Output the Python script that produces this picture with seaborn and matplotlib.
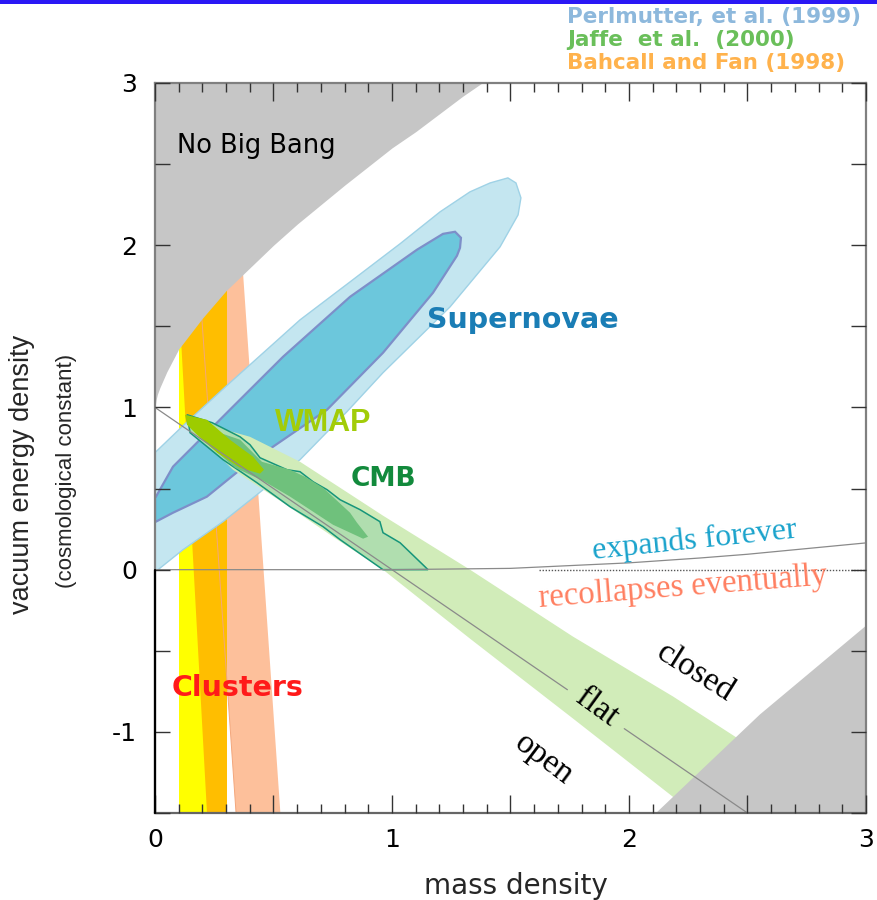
import numpy as np
import pandas as pd
import matplotlib
matplotlib.use("Agg")
import matplotlib.pyplot as plt
from matplotlib import font_manager
from matplotlib.patches import Rectangle
from matplotlib.ticker import MultipleLocator, FuncFormatter
import seaborn as sns

# ---------------- data: (mass density, vacuum energy density) ----------------
no_big_bang_m = [0.0, 0.005, 0.01, 0.02, 0.05, 0.1, 0.2, 0.3, 0.4, 0.5, 0.6, 0.8, 1.0, 1.1, 1.2, 1.3, 1.38]
no_big_bang_l = [1.0, 1.05, 1.08, 1.12, 1.22, 1.36, 1.55, 1.72, 1.86, 2.0, 2.13, 2.37, 2.60, 2.70, 2.81, 2.92, 3.0]

lower_gray_m = [2.11, 2.55, 3.0]
lower_gray_l = [-1.5, -0.89, -0.34]

expand_m = [0.0, 1.0, 1.5, 2.0, 2.3, 2.5, 3.0]
expand_l = [0.0, 0.0, 0.008, 0.042, 0.072, 0.095, 0.165]

dotted_m = [1.62, 3.0]
dotted_l = [0.0, 0.0]

flat_a_m = [0.0, 1.74]
flat_a_l = [1.0, -0.74]
flat_b_m = [1.98, 2.5]
flat_b_l = [-0.98, -1.5]

# galaxy clusters
yellow_m = [0.10, 0.30, 0.30, 0.10]
yellow_l = [3.0, 3.0, -1.5, -1.5]
orange_m = [0.05, 0.305, 0.305, 0.219]
orange_l = [3.0, 3.0, -1.5, -1.5]
salmon_m = [0.129, 0.316, 0.529, 0.342]
salmon_l = [3.0, 3.0, -1.5, -1.5]

# supernovae confidence regions
sn_outer_m = [0.0, 0.004, 0.118, 0.316, 0.612, 0.823, 1.034, 1.203, 1.329, 1.414, 1.489,
              1.523, 1.544, 1.532, 1.456, 1.245, 0.962, 0.810, 0.612, 0.430, 0.287,
              0.118, 0.013, 0.0]
sn_outer_l = [0.727, 0.727, 0.887, 1.152, 1.540, 1.774, 2.009, 2.206, 2.329, 2.384, 2.415,
              2.384, 2.292, 2.187, 1.990, 1.620, 1.214, 0.974, 0.678, 0.462, 0.296,
              0.123, 0.0, 0.0]
sn_inner_m = [0.0, 0.004, 0.076, 0.219, 0.316, 0.540, 0.823, 1.105, 1.215, 1.266, 1.291,
              1.287, 1.274, 1.173, 0.962, 0.726, 0.498, 0.359, 0.219, 0.076, 0.004, 0.0]
sn_inner_l = [0.450, 0.450, 0.635, 0.844, 0.986, 1.312, 1.682, 1.972, 2.070, 2.083, 2.046,
              1.984, 1.935, 1.707, 1.337, 0.986, 0.758, 0.616, 0.450, 0.351, 0.296, 0.296]

# CMB band and contours
band_m = [0.148, 0.401, 0.612, 0.781, 0.962, 1.329, 1.764, 2.186, 2.637, 3.0,
          2.468, 2.173, 1.764, 1.329, 0.962, 0.751, 0.540, 0.329, 0.148]
band_l = [0.924, 0.819, 0.665, 0.505, 0.333, 0.0, -0.413, -0.782, -1.208, -1.553,
          -1.725, -1.386, -0.918, -0.425, 0.0, 0.203, 0.413, 0.616, 0.875]
cmb_outer_m = [0.135, 0.241, 0.359, 0.401, 0.443, 0.557, 0.612, 0.667, 0.726, 0.781, 0.865,
               0.949, 0.962, 1.034, 1.152, 0.962, 0.781, 0.709, 0.570, 0.430, 0.287, 0.148]
cmb_outer_l = [0.955, 0.906, 0.819, 0.770, 0.690, 0.616, 0.604, 0.542, 0.493, 0.431, 0.370,
               0.296, 0.228, 0.166, 0.0, 0.0, 0.185, 0.265, 0.388, 0.536, 0.678, 0.844]
cmb_inner_m = [0.211, 0.359, 0.451, 0.570, 0.641, 0.709, 0.823, 0.852, 0.899,
               0.878, 0.751, 0.654, 0.570, 0.456, 0.338, 0.211]
cmb_inner_l = [0.875, 0.801, 0.665, 0.616, 0.567, 0.505, 0.351, 0.290, 0.203,
               0.191, 0.277, 0.370, 0.450, 0.548, 0.628, 0.789]
wmap_m = [0.127, 0.219, 0.316, 0.414, 0.460, 0.443, 0.359, 0.262, 0.177, 0.135]
wmap_l = [0.955, 0.924, 0.801, 0.696, 0.616, 0.592, 0.628, 0.721, 0.832, 0.893]

refs = ["Perlmutter, et al. (1999)", "Jaffe  et al.  (2000)", "Bahcall and Fan (1998)"]
ref_colors = ["#8db8dc", "#6abf5a", "#ffb24c"]

x_ticks_major = 0.5
x_ticks_minor = 0.1
y_ticks_major = 0.5

# ---------------- style ----------------
sns.set_theme(style="white")
plt.rcParams["font.family"] = ["DejaVu Sans"]
plt.rcParams["axes.unicode_minus"] = False

names = {f.name for f in font_manager.fontManager.ttflist}
if "Liberation Sans Narrow" in names:
    narrow_family, narrow_size = ["Liberation Sans Narrow", "DejaVu Sans"], 19.5
else:
    narrow_family, narrow_size = ["Liberation Sans", "DejaVu Sans"], 16.0
serif = ["Liberation Serif", "DejaVu Serif"]

fig = plt.figure(figsize=(8.78, 9.0), dpi=100)
fig.patch.set_facecolor("white")
ax = fig.add_axes([155 / 878, 87 / 900, 711 / 878, 730 / 900])
ax.set_facecolor("white")

# header bar
fig.patches.append(Rectangle((0, 1 - 4 / 900), 1, 4 / 900, transform=fig.transFigure,
                             facecolor="#2a18f5", edgecolor="none"))

# clusters
ax.fill(salmon_m, salmon_l, color="#fdc09b", lw=0, zorder=1.0)
ax.fill(yellow_m, yellow_l, color="#ffff00", lw=0, zorder=1.1)
ax.fill(orange_m, orange_l, color="#ffbe00", lw=0, zorder=1.2)
ax.plot([salmon_m[0], salmon_m[3]], [salmon_l[0], salmon_l[3]], color="#f3a77c",
        lw=0.7, zorder=1.3)

# forbidden regions
ax.fill_between(no_big_bang_m, no_big_bang_l, 3.0, color="#c6c6c6", lw=0, zorder=2)

# supernovae
ax.fill(sn_outer_m, sn_outer_l, facecolor="#c4e6f0", edgecolor="#9fd2e6", lw=1.0, zorder=3)
ax.fill(sn_inner_m, sn_inner_l, facecolor="#6cc7dc", edgecolor="#7d8fc9", lw=1.6, zorder=3.1)

# CMB
ax.fill(band_m, band_l, color="#d1ecb9", lw=0, zorder=4)
ax.fill(cmb_outer_m, cmb_outer_l, facecolor="#b0deaf", edgecolor="#16957a", lw=1.1, zorder=4.1)
ax.fill(cmb_inner_m, cmb_inner_l, color="#6fc17c", lw=0, zorder=4.2)
ax.fill(wmap_m, wmap_l, color="#9dcc00", lw=0, zorder=4.3)

ax.fill_between(lower_gray_m, lower_gray_l, -1.5, color="#c6c6c6", lw=0, zorder=4.5)

# reference lines
line_kw = dict(color="#8a8a8a", linewidth=0.9, sort=False, estimator=None, ax=ax, zorder=5)
sns.lineplot(x=flat_a_m, y=flat_a_l, **line_kw)
sns.lineplot(x=flat_b_m, y=flat_b_l, **line_kw)
sns.lineplot(x=expand_m, y=expand_l, **line_kw)
ax.plot(dotted_m, dotted_l, color="#555555", lw=1.0, ls=(0, (1, 1.2)), zorder=5)

ax.set_xlim(0, 3)
ax.set_ylim(-1.5, 3)

# labels inside the plot
ax.text(0.426, 2.612, "No Big Bang", fontsize=18.5, color="black", ha="center", va="center", zorder=6)
ax.text(1.553, 1.540, "Supernovae", fontsize=20.5, fontweight="bold", color="#1a7db5",
        ha="center", va="center", zorder=6)
ax.text(0.709, 0.906, "WMAP", fontsize=22, fontweight="bold", color="#a2cc08",
        family=["Liberation Sans", "DejaVu Sans"], ha="center", va="center", zorder=6)
ax.text(0.962, 0.561, "CMB", fontsize=19, fontweight="bold", color="#128a3c",
        ha="center", va="center", zorder=6)
ax.text(0.350, -0.727, "Clusters", fontsize=20.5, fontweight="bold", color="#ff1a1a",
        ha="center", va="center", zorder=6)
ax.text(2.278, 0.179, "expands forever", fontsize=23, family=serif, color="#1aa3cc",
        rotation=6, rotation_mode="anchor", ha="center", va="center", zorder=6)
ax.text(2.228, -0.111, "recollapses eventually", fontsize=23.5, family=serif, color="#ff7f60",
        rotation=4.5, rotation_mode="anchor", ha="center", va="center", zorder=6)
ax.text(2.278, -0.635, "closed", fontsize=24, family=serif, color="black",
        rotation=-32, rotation_mode="anchor", ha="center", va="center", zorder=6)
ax.text(1.865, -0.850, "flat", fontsize=24, family=serif, color="black",
        rotation=-36, rotation_mode="anchor", ha="center", va="center", zorder=6)
ax.text(1.641, -1.171, "open", fontsize=24, family=serif, color="black",
        rotation=-37, rotation_mode="anchor", ha="center", va="center", zorder=6)

# ticks
def int_label(v, pos):
    r = round(v)
    return f"{int(r)}" if abs(v - r) < 1e-6 else ""

ax.xaxis.set_major_locator(MultipleLocator(x_ticks_major))
ax.xaxis.set_minor_locator(MultipleLocator(x_ticks_minor))
ax.yaxis.set_major_locator(MultipleLocator(y_ticks_major))
ax.xaxis.set_major_formatter(FuncFormatter(int_label))
ax.yaxis.set_major_formatter(FuncFormatter(int_label))
ax.tick_params(which="both", direction="in", bottom=True, left=True, top=True, right=True,
               color="#333333", labelcolor="black")
ax.tick_params(axis="x", which="major", length=13, width=1.0, pad=11, labelsize=18)
ax.tick_params(axis="x", which="minor", length=6.5, width=1.0)
ax.tick_params(axis="y", which="major", length=10.5, width=1.0, pad=13, labelsize=18)
ax.tick_params(axis="y", which="minor", length=0)
ax.xaxis.set_zorder(8)
ax.yaxis.set_zorder(8)

for side in ["top", "right", "bottom", "left"]:
    ax.spines[side].set_color("#808080")
    ax.spines[side].set_linewidth(1.6)
    ax.spines[side].set_zorder(8)
ax.spines["bottom"].set_color("#666666")
ax.axvline(0, ymin=0, ymax=1.5 / 4.5, color="black", lw=1.6, zorder=9, clip_on=False)

# axis titles
fig.text(516 / 878, 1 - 886 / 900, "mass density", fontsize=20, ha="center", va="center")
fig.text(22 / 878, 1 - 474 / 900, "vacuum energy density", fontsize=19.5, rotation=90,
         family=["Liberation Sans", "DejaVu Sans"], ha="center", va="center")
fig.text(67 / 878, 1 - 471 / 900, "(cosmological constant)", fontsize=narrow_size, rotation=90,
         family=narrow_family, ha="center", va="center")

# references
for i, (t, c) in enumerate(zip(refs, ref_colors)):
    fig.text(567 / 878, 1 - (17 + 23 * i) / 900, t, fontsize=15.5, fontweight="bold",
             color=c, ha="left", va="center")

fig.savefig("out.png", dpi=100, facecolor="white")
